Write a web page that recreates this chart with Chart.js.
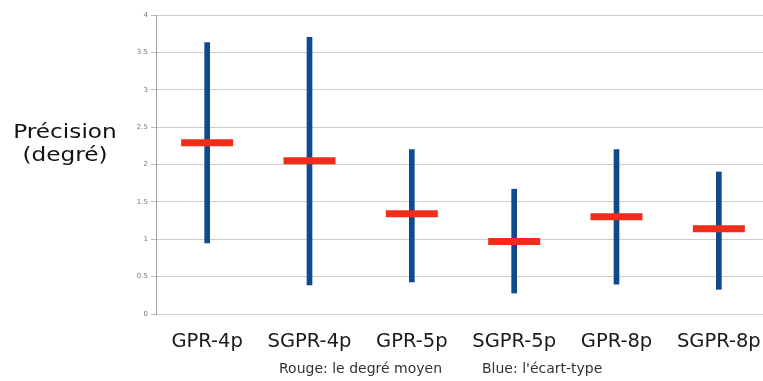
<!DOCTYPE html>
<html><head><meta charset="utf-8">
<script src="https://cdn.jsdelivr.net/npm/chart.js@4.4.1/dist/chart.umd.min.js"></script>
<style>
html,body{margin:0;padding:0;background:#fff;overflow:hidden;}
#wrap{position:relative;width:763px;height:381px;overflow:hidden;}
#c{position:absolute;left:0;top:0;}
.ylab{position:absolute;left:5px;top:120px;font-family:"DejaVu Sans",sans-serif;font-size:20px;color:#111;text-align:center;line-height:23px;width:120px;transform:scaleX(1.16);transform-origin:60px 0;}
.note{position:absolute;top:360px;font-family:"DejaVu Sans",sans-serif;font-size:14px;color:#333;white-space:nowrap;}
</style></head>
<body>
<div id="wrap">
<canvas id="c" width="777" height="381"></canvas>
<div class="ylab">Précision<br>(degré)</div>
<div class="note" style="left:279px">Rouge: le degré moyen</div>
<div class="note" style="left:482px">Blue: l'écart-type</div>
</div>
<script>
const categories = ["GPR-4p","SGPR-4p","GPR-5p","SGPR-5p","GPR-8p","SGPR-8p"];
const meanDegree = [2.29, 2.05, 1.34, 0.97, 1.30, 1.14];
const stdLow  = [0.95, 0.39, 0.43, 0.28, 0.40, 0.33];
const stdHigh = [3.63, 3.70, 2.20, 1.67, 2.20, 1.90];
const yTicks = [0, 0.5, 1, 1.5, 2, 2.5, 3, 3.5, 4];

const ranges = categories.map((_, i) => [stdLow[i], stdHigh[i]]);

new Chart(document.getElementById('c'), {
  data: {
    labels: categories,
    datasets: [
      {
        type: 'line',
        label: 'Rouge: le degré moyen',
        data: meanDegree,
        showLine: false,
        pointStyle: 'line',
        pointRadius: 26,
        pointHoverRadius: 26,
        pointBorderWidth: 7,
        pointHoverBorderWidth: 7,
        borderColor: '#ee2e18',
        backgroundColor: '#ee2e18'
      },
      {
        type: 'bar',
        label: "Blue: l'écart-type",
        data: ranges,
        backgroundColor: '#0f4a8c',
        borderWidth: 0,
        barThickness: 5
      }
    ]
  },
  options: {
    responsive: false,
    animation: false,
    layout: { autoPadding: false, padding: { left: 0, right: 3, top: 15, bottom: 0 } },
    plugins: { legend: { display: false }, tooltip: { enabled: false } },
    scales: {
      x: {
        type: 'category',
        offset: true,
        grid: { display: false, drawTicks: false },
        border: { display: false },
        ticks: {
          padding: 16,
          color: '#1a1a1a',
          font: { family: 'DejaVu Sans', size: 19.5 },
          maxRotation: 0, autoSkip: false
        },
        afterFit: s => { s.height = 67; }
      },
      y: {
        min: 0, max: 4,
        afterBuildTicks: s => { s.ticks = yTicks.map(v => ({ value: v })); },
        grid: { color: '#cdcdcd', lineWidth: 1, tickLength: 5, tickColor: '#bbbbbb' },
        border: { color: '#a0a0a0', width: 1 },
        ticks: {
          padding: 3,
          color: '#777',
          font: { family: 'DejaVu Sans', size: 7 },
          callback: v => String(v)
        },
        afterFit: s => { s.width = 156; }
      }
    }
  }
});
</script>
</body></html>
